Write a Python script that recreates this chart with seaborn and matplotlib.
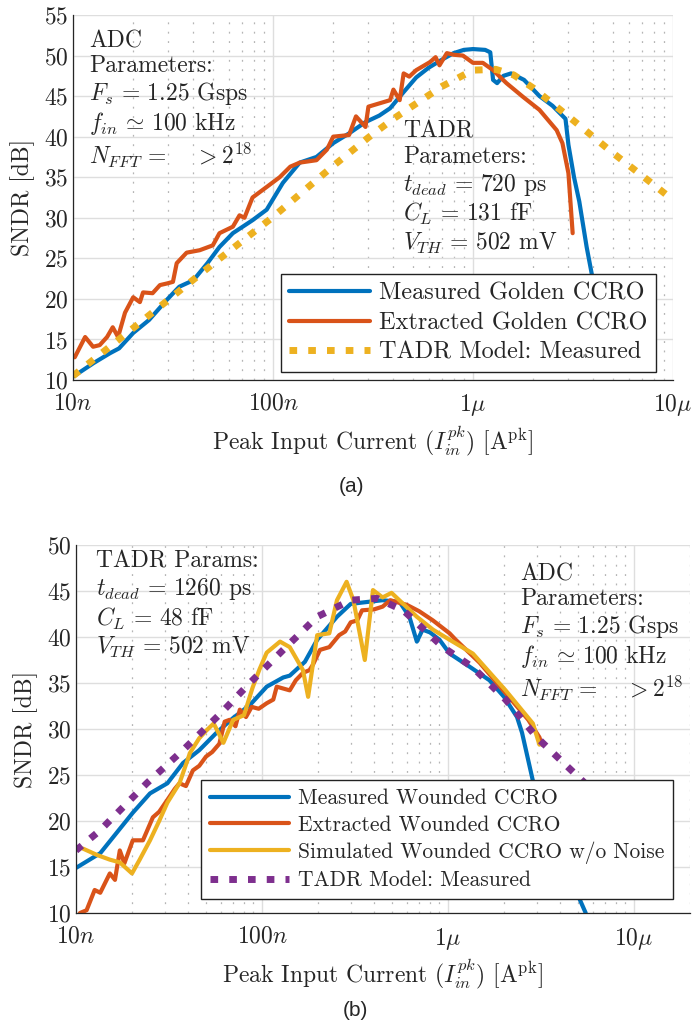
import numpy as np
import pandas as pd
import matplotlib
matplotlib.use("Agg")
import matplotlib.pyplot as plt
import seaborn as sns
from matplotlib.ticker import FixedLocator, NullFormatter

# ---------------- data (currents in nA, SNDR in dB) ----------------
# (a) Golden CCRO
a_meas_nA = [10, 12.7, 15.3, 17, 20, 24, 29.5, 34, 40, 47, 54, 63, 79, 93, 112, 136, 165, 200,
             240, 290, 340, 385, 450, 520, 600, 700, 800, 900, 1000, 1150, 1220, 1260, 1320,
             1420, 1550, 1800, 2150, 2500, 2900, 3000, 3200, 3400, 3700, 4000, 4300]
a_meas_db = [10.4, 12.1, 13.3, 13.9, 15.8, 17.4, 19.9, 21.5, 22.3, 24.4, 26.4, 28.1, 29.7, 31.0,
             34.3, 36.8, 37.5, 39.2, 40.4, 41.8, 42.6, 43.5, 45.5, 47.3, 48.5, 49.5, 50.3, 50.7,
             50.8, 50.7, 50.4, 47.0, 46.6, 47.5, 47.8, 47.0, 45.0, 43.8, 42.2, 39.0, 35.0, 32.0,
             26.4, 22.0, 18.0]

a_extr_nA = [10.2, 11.5, 12.6, 13.6, 14.8, 15.8, 16.8, 18.2, 20, 21.6, 22.4, 25, 27.2, 29.5,
             31.6, 33, 37, 43, 50, 54, 63, 68, 72, 79, 93, 108, 122, 136, 165, 186, 200, 240,
             260, 290, 300, 385, 400, 430, 450, 480, 520, 610, 650, 680, 740, 800, 890, 1000,
             1120, 1260, 1470, 1780, 2150, 2620, 2800, 3000, 3150]
a_extr_db = [12.8, 15.3, 14.1, 14.3, 15.3, 16.5, 15.3, 18.3, 20.2, 19.6, 20.8, 20.7, 21.7, 21.9,
             22.1, 24.4, 25.7, 26.0, 26.6, 28.1, 28.9, 30.3, 30.0, 32.5, 33.8, 35.0, 36.3, 36.8,
             37.1, 38.4, 40.0, 40.2, 42.5, 41.2, 43.7, 44.5, 45.8, 44.5, 47.8, 47.4, 48.2, 49.2,
             49.8, 48.8, 50.3, 50.1, 50.0, 49.1, 49.1, 48.2, 46.6, 44.9, 43.3, 40.8, 39.2, 35.5,
             28.1]

a_model_nA = [10, 20, 50, 100, 200, 300, 400, 500, 700, 1000, 1300, 1600, 2000, 3000, 5000,
              7000, 10000]
a_model_db = [10.5, 16.4, 24.3, 30.1, 36.4, 39.9, 42.2, 43.8, 46.2, 48.2, 48.3, 47.6, 46.0,
              42.5, 38.0, 35.2, 32.2]

# (b) Wounded CCRO
b_meas_nA = [10, 13.5, 20.2, 25, 31, 37.6, 46, 57, 70, 86, 106, 130, 141, 170, 198, 225, 253,
             300, 365, 445, 550, 620, 680, 730, 800, 900, 1020, 1300, 1670, 2000, 2350, 2500,
             2850, 3300, 3850, 4500, 5500]
b_meas_db = [14.9, 16.5, 20.9, 23.0, 24.1, 26.3, 27.7, 29.6, 31.2, 32.6, 34.6, 35.6, 35.8, 37.3,
             39.7, 41.0, 42.2, 43.6, 43.8, 44.0, 43.8, 42.2, 39.5, 40.8, 40.5, 39.7, 38.2, 36.8,
             35.3, 33.5, 31.3, 29.6, 24.5, 20.5, 17.2, 14.0, 10.0]

b_extr_nA = [10.5, 11.4, 12.6, 13.5, 15.2, 16.2, 17.2, 18.2, 20.2, 22.9, 25.9, 28, 31, 34, 36,
             39, 42.5, 46, 50, 54, 59, 63, 67, 72, 76, 82, 88, 96, 106, 115, 120, 130, 141, 152,
             166, 180, 188, 205, 230, 260, 280, 300, 325, 345, 400, 445, 490, 550, 600, 700,
             830, 1020, 1100, 1480, 2040, 2700, 3100, 3200]
b_extr_db = [10.0, 10.3, 12.5, 12.2, 14.3, 13.6, 16.8, 15.4, 17.9, 17.9, 20.4, 21.0, 22.3, 23.5,
             24.1, 23.8, 25.5, 26.0, 27.0, 27.5, 28.4, 30.8, 31.0, 30.3, 32.1, 31.3, 32.4, 32.2,
             32.8, 33.2, 34.6, 34.4, 34.2, 35.3, 36.1, 36.4, 37.0, 38.6, 38.9, 40.2, 40.6, 41.6,
             41.8, 42.9, 43.0, 43.3, 44.0, 43.7, 43.5, 42.8, 41.8, 40.4, 39.7, 37.2, 33.9, 31.0,
             29.1, 28.3]

b_sim_nA = [10.9, 13, 15.2, 17.2, 20, 22, 25, 28, 31, 36, 41, 46, 50, 55, 62, 70, 80, 89, 97,
            106, 125, 141, 166, 177, 198, 230, 253, 285, 310, 357, 395, 445, 497, 680, 830,
            1020, 1360, 2040, 2860, 3100]
b_sim_db = [17.0, 16.3, 15.8, 15.5, 14.3, 15.8, 17.9, 20.0, 22.0, 24.1, 27.4, 29.0, 29.8, 30.6,
            28.5, 31.0, 31.5, 34.5, 36.5, 38.3, 39.5, 38.9, 36.4, 33.5, 40.2, 40.4, 44.0, 46.0,
            44.0, 37.5, 45.1, 44.3, 44.8, 42.2, 40.8, 39.7, 38.2, 34.2, 30.6, 28.3]

b_model_nA = [10, 13.5, 24, 37.6, 60, 86, 130, 198, 300, 415, 575, 940, 1360, 2040, 3000, 3850,
              5200, 7000, 10000]
b_model_db = [16.8, 19.0, 24.1, 27.7, 31.7, 35.0, 38.6, 42.2, 44.0, 44.2, 42.9, 38.9, 36.7,
              33.2, 29.1, 27.0, 24.5, 22.0, 19.0]

labels_a = ["Measured Golden CCRO", "Extracted Golden CCRO", "TADR Model: Measured"]
labels_b = ["Measured Wounded CCRO", "Extracted Wounded CCRO",
            "Simulated Wounded CCRO w/o Noise", "TADR Model: Measured"]
xtick_vals = [1e-8, 1e-7, 1e-6, 1e-5]
xtick_labels = [r"10$n$", r"100$n$", r"1$\mu$", r"10$\mu$"]

C_BLUE, C_ORANGE, C_YELLOW, C_PURPLE = "#0072BD", "#D95319", "#EDB120", "#7E2F8E"

# ---------------- style ----------------
sns.set_style("white")
plt.rcParams["font.family"] = ["cmr10"]
plt.rcParams["mathtext.fontset"] = "cm"
plt.rcParams["axes.formatter.use_mathtext"] = True
plt.rcParams["axes.unicode_minus"] = False

fig = plt.figure(figsize=(6.92, 10.34), dpi=100)
axA = fig.add_axes([73 / 692, 1 - 380 / 1034, 600 / 692, 365 / 1034])
axB = fig.add_axes([76 / 692, 1 - 913 / 1034, 614 / 692, 368 / 1034])

LW = 3.0
LWD = 5.0


def draw(ax, x_nA, y, color, lw, label, dotted=False):
    df = pd.DataFrame({"I": np.asarray(x_nA) * 1e-9, "SNDR": y})
    kws = dict(linestyle=(0, (1.1, 1.6))) if dotted else {}
    sns.lineplot(data=df, x="I", y="SNDR", ax=ax, color=color, lw=lw, sort=False,
                 estimator=None, label=label, **kws)


def style_axes(ax, xmax, ymax, fs, pad):
    ax.set_xscale("log")
    ax.set_xlim(1e-8, xmax)
    ax.set_ylim(10, ymax)
    ax.set_xticks(xtick_vals)
    ax.set_xticklabels(xtick_labels)
    minors = [m * 10.0 ** e for e in range(-8, -4) for m in range(2, 10)]
    ax.xaxis.set_minor_locator(FixedLocator(minors))
    ax.xaxis.set_minor_formatter(NullFormatter())
    ax.set_yticks(np.arange(10, ymax + 1, 5))
    ax.tick_params(axis="both", which="major", direction="in", length=6, width=0.8,
                   labelsize=fs, colors="#262626")
    ax.tick_params(axis="x", which="major", pad=pad)
    ax.tick_params(axis="x", which="minor", direction="in", length=3.5, width=0.8, colors="#262626")
    ax.grid(True, which="major", color="#dedede", lw=1.0, ls="-")
    ax.grid(True, which="minor", axis="x", color="#b5b5b5", lw=0.9, ls=(0, (1.5, 6)))
    ax.set_axisbelow(True)
    for s in ["top", "right"]:
        ax.spines[s].set_visible(False)
    for s in ["left", "bottom"]:
        ax.spines[s].set_color("#262626")
        ax.spines[s].set_linewidth(0.9)
    ax.set_ylabel("SNDR [dB]", fontsize=fs, labelpad=6)
    ax.set_xlabel(r"Peak Input Current ($I_{in}^{pk}$) [A$^{\rm pk}$]", fontsize=fs, labelpad=4)


ADC_TXT = ("ADC\nParameters:\n$F_s \\,=\\, 1.25$ Gsps\n$f_{in} \\,\\simeq\\, 100$ kHz\n"
           "$N_{FFT} \\,=\\, \\quad > 2^{18}$")

# ---------------- (a) ----------------
draw(axA, a_meas_nA, a_meas_db, C_BLUE, LW, labels_a[0])
draw(axA, a_extr_nA, a_extr_db, C_ORANGE, LW, labels_a[1])
draw(axA, a_model_nA, a_model_db, C_YELLOW, LWD, labels_a[2], dotted=True)
style_axes(axA, 1e-5, 55, 17, 9)
legA = axA.legend(loc="lower right", bbox_to_anchor=(0.972, 0.022), fontsize=17.5,
                  handlelength=3.3, handletextpad=0.4, borderpad=0.35, labelspacing=0.3,
                  borderaxespad=0, fancybox=False, framealpha=1, edgecolor="#222222")
legA.get_frame().set_linewidth(1.0)
axA.text(0.027, 0.958, ADC_TXT, transform=axA.transAxes, ha="left", va="top",
         fontsize=17, linespacing=1.15)
axA.text(0.55, 0.71, "TADR\nParameters:\n$t_{dead} \\,=\\, 720$ ps\n$C_L \\,=\\, 131$ fF\n"
         "$V_{TH} \\,=\\, 502$ mV", transform=axA.transAxes, ha="left", va="top",
         fontsize=17, linespacing=1.18)

# ---------------- (b) ----------------
draw(axB, b_meas_nA, b_meas_db, C_BLUE, LW, labels_b[0])
draw(axB, b_extr_nA, b_extr_db, C_ORANGE, LW, labels_b[1])
draw(axB, b_sim_nA, b_sim_db, C_YELLOW, LW, labels_b[2])
draw(axB, b_model_nA, b_model_db, C_PURPLE, LWD, labels_b[3], dotted=True)
style_axes(axB, 2e-5, 50, 17, 9)
legB = axB.legend(loc="lower right", bbox_to_anchor=(0.972, 0.038), fontsize=15.5,
                  handlelength=3.7, handletextpad=0.4, borderpad=0.4, labelspacing=0.32,
                  borderaxespad=0, fancybox=False, framealpha=1, edgecolor="#222222")
legB.get_frame().set_linewidth(1.0)
axB.text(0.033, 0.985, "TADR Params:\n$t_{dead} \\,=\\, 1260$ ps\n$C_L \\,=\\, 48$ fF\n"
         "$V_{TH} \\,=\\, 502$ mV",
         transform=axB.transAxes, ha="left", va="top", fontsize=17, linespacing=1.18)
axB.text(0.723, 0.95, ADC_TXT, transform=axB.transAxes, ha="left", va="top",
         fontsize=17, linespacing=1.15)

# ---------------- captions ----------------
fig.text(352 / 692, 1 - 487 / 1034, "(a)", ha="center", va="center", fontsize=15,
         family=["Liberation Sans", "DejaVu Sans"])
fig.text(355 / 692, 1 - 1010 / 1034, "(b)", ha="center", va="center", fontsize=15,
         family=["Liberation Sans", "DejaVu Sans"])

fig.savefig("out.png", dpi=100)
